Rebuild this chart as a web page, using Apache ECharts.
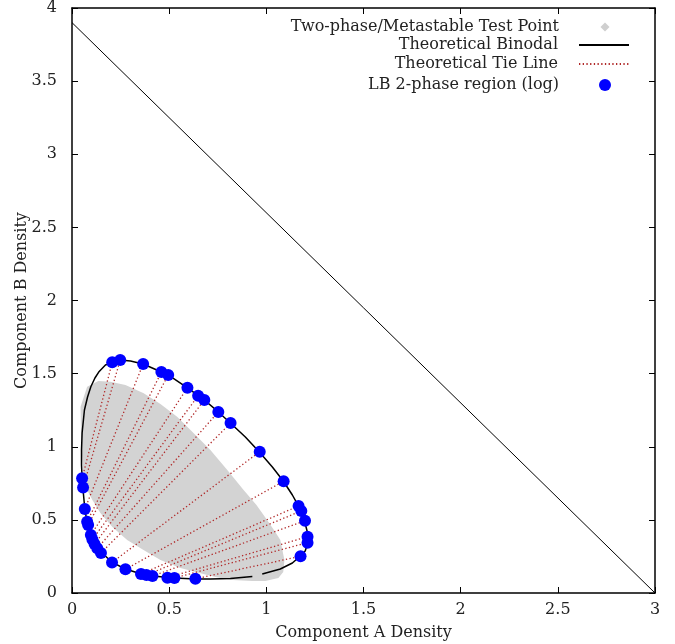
<!DOCTYPE html>
<html>
<head>
<meta charset="utf-8">
<script src="https://cdn.jsdelivr.net/npm/echarts@6/dist/echarts.min.js"></script>
<style>
  html, body { margin: 0; padding: 0; background: #fff; }
  #chart { width: 675px; height: 644px; }
</style>
</head>
<body>
<div id="chart"></div>
<script>
// axis ticks
const xTicks = [0, 0.5, 1, 1.5, 2, 2.5, 3];
const yTicks = [0, 0.5, 1, 1.5, 2, 2.5, 3, 3.5, 4];

// LB points, upper branch (B-rich phase) and lower branch, paired by tie line
const upperX = [0.207, 0.248, 0.366, 0.460, 0.495, 0.594, 0.649, 0.681, 0.753, 0.816, 0.966, 1.089, 1.166, 1.180, 1.199, 1.212, 1.212, 1.176];
const upperY = [1.577, 1.593, 1.566, 1.511, 1.491, 1.404, 1.349, 1.320, 1.238, 1.162, 0.966, 0.764, 0.595, 0.561, 0.494, 0.385, 0.344, 0.251];
const lowerX = [0.052, 0.057, 0.066, 0.078, 0.083, 0.097, 0.105, 0.116, 0.130, 0.149, 0.206, 0.275, 0.355, 0.383, 0.414, 0.491, 0.527, 0.635];
const lowerY = [0.784, 0.721, 0.574, 0.488, 0.465, 0.397, 0.366, 0.335, 0.306, 0.274, 0.209, 0.162, 0.130, 0.123, 0.116, 0.105, 0.103, 0.097];

// theoretical binodal (null = gap in the curve)
const binodalX = [0.052, 0.049, 0.049, 0.052, 0.064, 0.080, 0.097, 0.118, 0.140, 0.172, 0.207, 0.248, 0.301, 0.366, 0.460, 0.495, 0.594, 0.681, 0.753, 0.815, 0.892, 0.964, 1.031, 1.087, 1.134, 1.165, 1.195, 1.211, 1.213, 1.200, 1.175, 1.134, 1.072, 0.979, null, 0.928, 0.815, 0.712, 0.635, 0.527, 0.414, 0.357, 0.275, 0.207, 0.150, 0.111, 0.080, 0.066, 0.056, 0.052];
const binodalY = [0.786, 0.875, 0.978, 1.094, 1.251, 1.340, 1.410, 1.470, 1.515, 1.559, 1.579, 1.593, 1.586, 1.566, 1.511, 1.491, 1.402, 1.320, 1.238, 1.162, 1.067, 0.964, 0.862, 0.766, 0.670, 0.595, 0.499, 0.417, 0.342, 0.287, 0.253, 0.205, 0.164, 0.130, null, 0.113, 0.099, 0.096, 0.096, 0.103, 0.116, 0.130, 0.164, 0.209, 0.280, 0.356, 0.465, 0.574, 0.718, 0.786];

// outline of the two-phase / metastable test point cloud
const grayX = [0.044, 0.078, 0.136, 0.198, 0.275, 0.369, 0.455, 0.541, 0.625, 0.712, 0.799, 0.883, 0.949, 1.004, 1.046, 1.072, 1.093, 1.087, 1.062, 0.995, 0.928, 0.825, 0.738, 0.661, 0.558, 0.455, 0.368, 0.284, 0.208, 0.147, 0.105, 0.078, 0.059, 0.052, 0.046];
const grayY = [1.274, 1.411, 1.450, 1.445, 1.422, 1.365, 1.292, 1.205, 1.094, 0.978, 0.841, 0.704, 0.602, 0.499, 0.417, 0.362, 0.226, 0.144, 0.103, 0.082, 0.082, 0.089, 0.109, 0.135, 0.171, 0.226, 0.294, 0.362, 0.451, 0.545, 0.636, 0.704, 0.821, 0.932, 1.115];

// total density line
const diagX = [0, 3];
const diagY = [3.9, 0];

const FONT = 'DejaVu Serif';
const names = ['Two-phase/Metastable Test Point', 'Theoretical Binodal', 'Theoretical Tie Line', 'LB 2-phase region (log)'];

let tieData = [];
upperX.forEach(function (x, i) {
  tieData.push([lowerX[i], lowerY[i]]);
  tieData.push([x, upperY[i]]);
  tieData.push('-');
});
let binodalData = binodalX.map(function (x, i) {
  return x === null ? '-' : [x, binodalY[i]];
});
let grayData = grayX.map(function (x, i) { return [x, grayY[i]]; });
let lbData = upperX.map(function (x, i) { return [x, upperY[i]]; })
  .concat(lowerX.map(function (x, i) { return [x, lowerY[i]]; }));

// one legend per row so the texts line up on the right like gnuplot's key
function legendFor(i, top, icon, w, h) {
  let item = { name: names[i] };
  if (icon) item.icon = icon;
  else item.itemStyle = { opacity: 0 };   // hide the symbol on line icons
  let shift = (50 - w) / 2;
  return {
    data: [item],
    orient: 'vertical',
    right: 45 + shift,
    top: top,
    padding: 0,
    align: 'right',
    itemWidth: w,
    itemHeight: h,
    selectedMode: false,
    textStyle: { fontFamily: FONT, fontSize: 16, color: '#222', padding: [0, 16 + shift, 0, 0] }
  };
}

function axisCommon(min, max, step) {
  return {
    type: 'value',
    min: min,
    max: max,
    interval: step,
    axisLine: { show: true, onZero: false, lineStyle: { color: '#000', width: 1.5 } },
    axisTick: { show: true, inside: true, length: 6, lineStyle: { color: '#000', width: 1 } },
    splitLine: { show: false }
  };
}

let xStep = xTicks[1] - xTicks[0];
let yStep = yTicks[1] - yTicks[0];

let xBottom = axisCommon(xTicks[0], xTicks[xTicks.length - 1], xStep);
xBottom.position = 'bottom';
xBottom.axisLabel = { color: '#222', fontFamily: FONT, fontSize: 16, margin: 9 };
xBottom.name = 'Component A Density';
xBottom.nameLocation = 'middle';
xBottom.nameGap = 32;
xBottom.nameTextStyle = { color: '#222', fontFamily: FONT, fontSize: 16 };
let xTop = axisCommon(xTicks[0], xTicks[xTicks.length - 1], xStep);
xTop.position = 'top';
xTop.axisLabel = { show: false };

let yLeft = axisCommon(yTicks[0], yTicks[yTicks.length - 1], yStep);
yLeft.position = 'left';
yLeft.axisLabel = { color: '#222', fontFamily: FONT, fontSize: 16, margin: 15 };
yLeft.name = 'Component B Density';
yLeft.nameLocation = 'middle';
yLeft.nameGap = 42;
yLeft.nameMoveOverlap = false;
yLeft.nameTextStyle = { color: '#222', fontFamily: FONT, fontSize: 16 };
let yRight = axisCommon(yTicks[0], yTicks[yTicks.length - 1], yStep);
yRight.position = 'right';
yRight.axisLabel = { show: false };

let option = {
  animation: false,
  backgroundColor: '#fff',
  grid: { left: 72, right: 20, top: 8, bottom: 51, containLabel: false, outerBoundsMode: 'none' },
  legend: [
    legendFor(0, 19, 'diamond', 9, 9),
    legendFor(1, 37, null, 50, 14),
    legendFor(2, 56, null, 50, 14),
    legendFor(3, 77, 'circle', 12, 12)
  ],
  xAxis: [xBottom, xTop],
  yAxis: [yLeft, yRight],
  series: [
    {
      name: names[0],
      type: 'custom',
      xAxisIndex: 0,
      yAxisIndex: 0,
      itemStyle: { color: '#cfcfcf' },
      encode: { x: 0, y: 1 },
      renderItem: function (params, api) {
        if (params.dataIndexInside !== 0) return;
        let pts = grayData.map(function (p) { return api.coord(p); });
        return {
          type: 'polygon',
          shape: { points: pts },
          style: { fill: '#d3d3d3', stroke: null }
        };
      },
      data: grayData,
      z: 1
    },
    {
      name: '',
      type: 'line',
      data: [[diagX[0], diagY[0]], [diagX[1], diagY[1]]],
      symbol: 'none',
      silent: true,
      lineStyle: { color: '#000', width: 1 },
      z: 2
    },
    {
      name: names[2],
      type: 'line',
      data: tieData,
      symbol: 'none',
      connectNulls: false,
      itemStyle: { color: '#b02828' },
      lineStyle: { color: '#b02828', width: 1.3, type: [1.3, 2.4] },
      z: 3
    },
    {
      name: names[1],
      type: 'line',
      data: binodalData,
      symbol: 'none',
      connectNulls: false,
      itemStyle: { color: '#000' },
      lineStyle: { color: '#000', width: 1.5 },
      z: 4
    },
    {
      name: names[3],
      type: 'scatter',
      data: lbData,
      symbol: 'circle',
      symbolSize: 12,
      itemStyle: { color: '#0000ff', opacity: 1 },
      z: 5
    }
  ]
};

let chart = echarts.init(document.getElementById('chart'), null, { renderer: 'canvas' });
chart.setOption(option);
</script>
</body>
</html>
